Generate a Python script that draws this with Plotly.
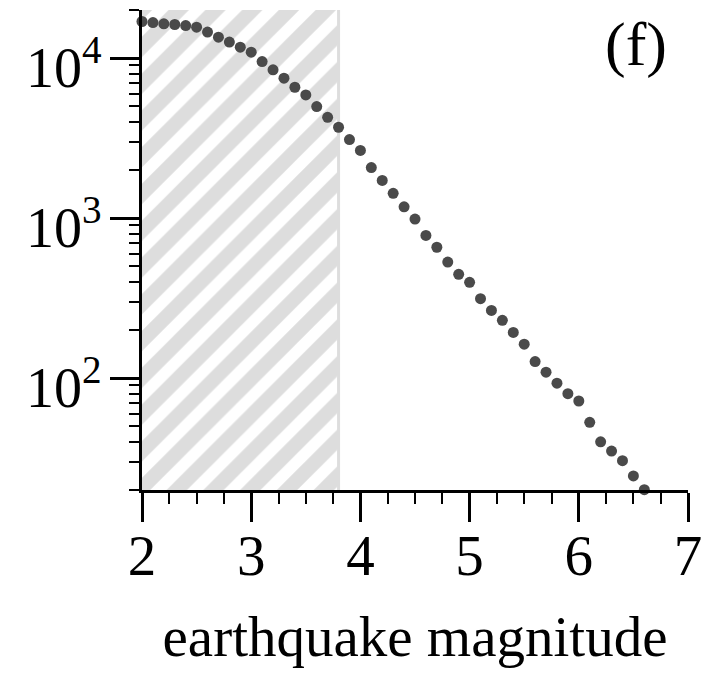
import plotly.graph_objects as go
import numpy as np

# ---- data ----
magnitude = [2.0, 2.1, 2.2, 2.3, 2.4, 2.5, 2.6, 2.7, 2.8, 2.9,
             3.0, 3.1, 3.2, 3.3, 3.4, 3.5, 3.6, 3.7, 3.8, 3.9,
             4.0, 4.1, 4.2, 4.3, 4.4, 4.5, 4.6, 4.7, 4.8, 4.9,
             5.0, 5.1, 5.2, 5.3, 5.4, 5.5, 5.6, 5.7, 5.8, 5.9,
             6.0, 6.1, 6.2, 6.3, 6.4, 6.5, 6.6]
counts = [16950, 16700, 16400, 16230, 15990, 15630, 14550, 13530, 12600, 11720,
          10900, 9520, 8450, 7500, 6580, 5890, 4980, 4270, 3700, 3100,
          2650, 2070, 1720, 1430, 1178, 987, 780, 658, 532, 446,
          397, 314, 265, 230, 193, 163, 127, 109, 93, 80,
          72, 53, 40, 35, 30.5, 24.5, 20.1]
shaded_range = [2.0, 3.8]
x_range = [2, 7]
y_range = [20, 20000]
x_ticks = [2, 3, 4, 5, 6, 7]
x_ticklabels = ["2", "3", "4", "5", "6", "7"]
y_ticks = [100, 1000, 10000]
y_ticklabels = ["10<sup>2</sup>", "10<sup>3</sup>", "10<sup>4</sup>"]
panel_label = "(f)"
x_title = "earthquake magnitude"

FONT = "Liberation Serif"

# minor tick positions on the log axis (2..9 x 10^k within range)
y_minor = [m * 10 ** k for k in range(1, 5) for m in range(2, 10)
           if y_range[0] <= m * 10 ** k <= y_range[1]]

fig = go.Figure()

# hatched (shaded) region
fig.add_trace(go.Scatter(
    x=[shaded_range[0], shaded_range[1], shaded_range[1], shaded_range[0], shaded_range[0]],
    y=[y_range[0], y_range[0], y_range[1], y_range[1], y_range[0]],
    mode="lines", line=dict(width=0), fill="toself", fillcolor="white",
    fillpattern=dict(shape="/", fgcolor="#dddddd", bgcolor="white",
                     size=26, solidity=0.55, fillmode="replace"),
    hoverinfo="skip", showlegend=False,
))
# right edge of shaded region
fig.add_trace(go.Scatter(
    x=[shaded_range[1], shaded_range[1]], y=y_range, mode="lines",
    line=dict(color="#dddddd", width=3), hoverinfo="skip", showlegend=False,
))

fig.add_trace(go.Scatter(
    x=magnitude, y=counts, mode="markers",
    marker=dict(color="#4a4a4a", size=11, line=dict(width=0)),
    cliponaxis=False, showlegend=False,
))

# y tick labels (drawn as annotations so they sit slightly below their ticks)
for v, t in zip(y_ticks, y_ticklabels):
    fig.add_annotation(
        text=t, xref="paper", yref="y", x=0, y=np.log10(v),
        xanchor="right", yanchor="middle", xshift=-38, yshift=-5,
        showarrow=False, font=dict(family=FONT, size=56, color="black"),
    )

fig.add_annotation(
    text=panel_label, xref="paper", yref="paper", x=0.905, y=0.929,
    xanchor="center", yanchor="middle", showarrow=False,
    font=dict(family=FONT, size=62, color="black"),
)

fig.update_layout(
    width=703, height=669,
    margin=dict(l=134, r=23, t=2, b=186.5, autoexpand=False),
    paper_bgcolor="white", plot_bgcolor="white",
    font=dict(family=FONT, color="black"),
    showlegend=False,
)
fig.update_xaxes(
    range=x_range, showgrid=False, zeroline=False, automargin=False,
    showline=True, linecolor="black", linewidth=2.5,
    ticks="outside", ticklen=29, tickwidth=2.5, tickcolor="black",
    tickvals=x_ticks, ticktext=x_ticklabels,
    tickfont=dict(family=FONT, size=57, color="black"),
    ticklabelstandoff=-15,
    minor=dict(ticks="outside", ticklen=11, tickwidth=2, tickcolor="black",
               dtick=0.25, tick0=2, showgrid=False),
    title=dict(text=x_title, font=dict(family=FONT, size=57, color="black"), standoff=30),
)
fig.update_yaxes(
    type="log", range=[np.log10(y_range[0]), np.log10(y_range[1])],
    showgrid=False, zeroline=False, automargin=False,
    showline=True, linecolor="black", linewidth=2.5,
    ticks="outside", ticklen=29, tickwidth=2.5, tickcolor="black",
    tickvals=y_ticks, showticklabels=False,
    minor=dict(ticks="outside", ticklen=10, tickwidth=2, tickcolor="black",
               tickvals=y_minor, showgrid=False),
)

fig.write_html("out.html")
